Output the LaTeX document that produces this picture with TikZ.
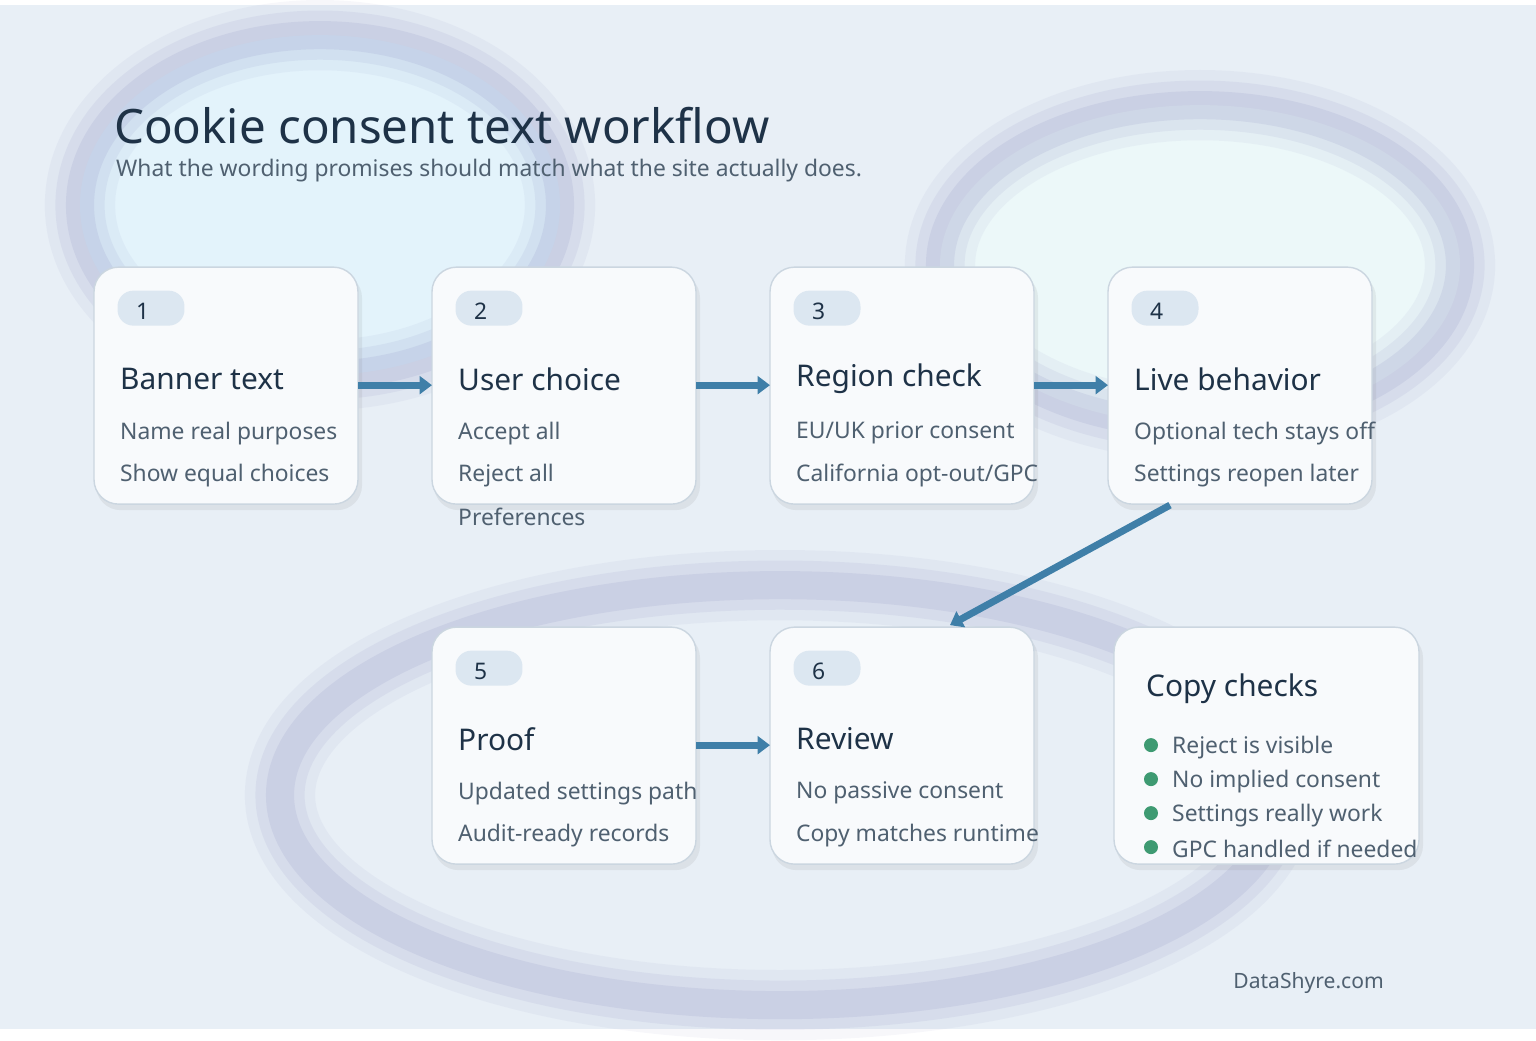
\documentclass[tikz,border=0pt]{standalone}
\usepackage{fontspec}
\setmainfont{Noto Sans}
\usetikzlibrary{positioning,arrows.meta}
\definecolor{bgcol}{HTML}{E8EFF6}
\definecolor{ink}{HTML}{1E3247}
\definecolor{subink}{HTML}{4F6070}
\definecolor{flow}{HTML}{3F7FA8}
\definecolor{pill}{HTML}{DCE7F1}
\definecolor{edge}{HTML}{CBD6E0}
\definecolor{cardfill}{HTML}{F8FAFC}
\definecolor{dot}{HTML}{3E9A72}
\tikzset{
  card/.style={draw=edge, line width=0.8pt, fill=cardfill, rounded corners=14pt},
  cardshadow/.style={fill=gray, opacity=0.12, rounded corners=14pt},
  badge/.style={fill=pill, rounded corners=9pt, minimum width=1.34cm, minimum height=0.7cm, inner sep=0pt},
  num/.style={anchor=west, font=\fontsize{13}{15}\selectfont, text=ink},
  head/.style={anchor=west, font=\fontsize{17}{20}\selectfont, text=ink},
  body/.style={anchor=west, font=\fontsize{13}{15}\selectfont, text=subink},
  flowarrow/.style={draw=flow, line width=4pt, -{Triangle[length=7pt,width=10pt]}},
}
\begin{document}
\begin{tikzpicture}[x=0.02cm,y=-0.02cm]
\fill[bgcol] (0,0) rectangle (1536,1024);
% soft background blobs
\fill[blue!30!cyan!12!white, opacity=0.6] (320,200) ellipse (240 and 170);
\fill[green!25!cyan!6!white, opacity=0.6] (1200,260) ellipse (260 and 160);
\foreach \w/\o in {40/0.05,28/0.07,16/0.09}{
  \draw[gray!70!blue, line width=\w pt, opacity=\o] (320,200) ellipse (240 and 170);
  \draw[gray!70!blue, line width=\w pt, opacity=\o] (1200,260) ellipse (260 and 160);
  \draw[gray!70!blue, line width=\w pt, opacity=\o] (780,790) ellipse (500 and 210);
}
% title
\node[anchor=base west, font=\fontsize{27}{32}\selectfont, text=ink] (title) at (108,138) {Cookie consent text workflow};
\node[anchor=base west, font=\fontsize{13}{15}\selectfont, text=subink] (subtitle) at (110,171) {What the wording promises should match what the site actually does.};
% cards
\foreach \n/\x/\y/\h/\a/\b in {
  1/94/262/Banner text/Name real purposes/Show equal choices,
  2/432/262/User choice/Accept all/Reject all,
  3/770/262/Region check/EU\slash UK prior consent/California opt-out\slash GPC,
  4/1108/262/Live behavior/Optional tech stays off/Settings reopen later,
  5/432/622/Proof/Updated settings path/Audit-ready records,
  6/770/622/Review/No passive consent/Copy matches runtime}{
  \fill[cardshadow] ({\x+2},{\y+6}) rectangle ({\x+268},{\y+243});
  \draw[card] (\x,\y) rectangle ({\x+264},{\y+237});
  \coordinate (c\n w) at (\x,{\y+118});
  \coordinate (c\n e) at ({\x+264},{\y+118});
  \node[badge] (b\n) at ({\x+57},{\y+41}) {};
  \node[num] at ({\x+36},{\y+44}) {\n};
  \node[head] (h\n) at ({\x+20},{\y+112}) {\h};
  \node[body] at ({\x+20},{\y+166}) {\a};
  \node[body] at ({\x+20},{\y+208}) {\b};
}
\node[body] (extra) at (452,512) {Preferences};
% copy checks card
\fill[cardshadow] (1116,628) rectangle (1423,865);
\draw[card] (1114,622) rectangle (1419,859);
\node[head] (checks) at (1140,684) {Copy checks};
\foreach \t [count=\i] in {Reject is visible,No implied consent,Settings really work,GPC handled if needed}{
  \fill[dot] (1151,{706+34*\i}) circle (7);
  \node[body] (k\i) at (1166,{708+34*\i}) {\t};
}
% flow
\coordinate (c4s) at (1170,500);
\coordinate (c6n) at (950,620);
\draw[flowarrow] (c1e) -- (c2w);
\draw[flowarrow] (c2e) -- (c3w);
\draw[flowarrow] (c3e) -- (c4w);
\draw[flowarrow] (c4s) -- (c6n);
\draw[flowarrow] (c5e) -- (c6w);
\node[anchor=base east, font=\fontsize{12}{14}\selectfont, text=subink] (brand) at (1390,983) {DataShyre.com};
\end{tikzpicture}
\end{document}
